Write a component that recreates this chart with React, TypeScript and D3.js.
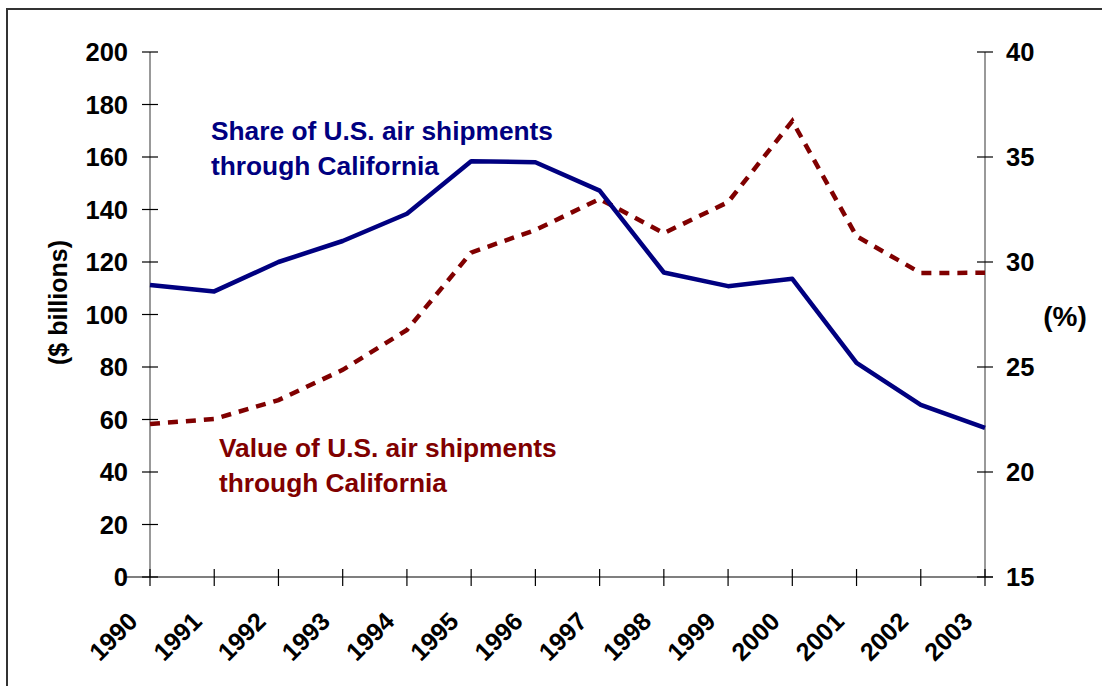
import React from "react";
import * as d3 from "d3";

// Years on the x axis
const years = [1990, 1991, 1992, 1993, 1994, 1995, 1996, 1997, 1998, 1999, 2000, 2001, 2002, 2003];

// Share of U.S. air shipments through California (%), right axis
const shareValues = [28.9, 28.6, 30.0, 31.0, 32.3, 34.8, 34.75, 33.4, 29.5, 28.85, 29.2, 25.2, 23.2, 22.1];

// Value of U.S. air shipments through California ($ billions), left axis
const valueValues = [58.3, 60.2, 67.4, 78.9, 94.1, 123.6, 132.2, 144, 131, 142.8, 173.7, 129.8, 115.8, 115.9];

// Tick labels
const leftTicks = [0, 20, 40, 60, 80, 100, 120, 140, 160, 180, 200];
const rightTicks = [15, 20, 25, 30, 35, 40];

const W = 1102,
  H = 686;
const left = 150,
  right = 985,
  top = 52,
  bottom = 577;

const FONT = "'Liberation Sans', Arial, sans-serif";
const NAVY = "#000080";
const MAROON = "#800000";

export default function App() {
  const x = d3
    .scaleLinear()
    .domain([years[0], years[years.length - 1]])
    .range([left, right]);
  const yLeft = d3.scaleLinear().domain([0, 200]).range([bottom, top]);
  const yRight = d3.scaleLinear().domain([15, 40]).range([bottom, top]);

  const shareLine = d3
    .line<number>()
    .x((_, i) => x(years[i]))
    .y((d) => yRight(d));
  const valueLine = d3
    .line<number>()
    .x((_, i) => x(years[i]))
    .y((d) => yLeft(d));

  return (
    <svg
      width={W}
      height={H}
      style={{ position: "absolute", left: 0, top: 0, background: "#fff" }}
      fontFamily={FONT}
      fontWeight="bold"
    >
      {/* cadre */}
      <rect x={7} y={9} width={W + 20} height={H + 20} fill="none" stroke="#333" strokeWidth={2} />

      {/* axe gauche */}
      <line x1={left} x2={left} y1={top} y2={bottom} stroke="#777" strokeWidth={1.5} />
      {leftTicks.map((t) => (
        <g key={"l" + t}>
          <line x1={left - 8} x2={left + 8} y1={yLeft(t)} y2={yLeft(t)} stroke="#000" strokeWidth={1.2} />
          <text x={left - 22} y={yLeft(t)} dy="0.36em" textAnchor="end" fontSize={25.5}>
            {t}
          </text>
        </g>
      ))}
      <text
        transform={`translate(67,${(top + bottom) / 2 - 12}) rotate(-90)`}
        textAnchor="middle"
        fontSize={25}
      >
        ($ billions)
      </text>

      {/* axe droit */}
      <line x1={right} x2={right} y1={top} y2={bottom} stroke="#777" strokeWidth={1.5} />
      {rightTicks.map((t) => (
        <g key={"r" + t}>
          <line x1={right - 8} x2={right + 8} y1={yRight(t)} y2={yRight(t)} stroke="#000" strokeWidth={1.2} />
          <text x={right + 21} y={yRight(t)} dy="0.36em" textAnchor="start" fontSize={25.5}>
            {t}
          </text>
        </g>
      ))}
      <text x={1065} y={316} dy="0.36em" textAnchor="middle" fontSize={28}>
        (%)
      </text>

      {/* axe des x */}
      <line x1={left - 25} x2={right + 8} y1={bottom} y2={bottom} stroke="#000" strokeWidth={1.2} />
      {years.map((yr) => (
        <g key={yr}>
          <line x1={x(yr)} x2={x(yr)} y1={bottom - 8} y2={bottom + 9} stroke="#000" strokeWidth={1.2} />
          <text
            transform={`translate(${x(yr) - 11},${bottom + 46}) rotate(-45)`}
            textAnchor="end"
            fontSize={25}
          >
            {yr}
          </text>
        </g>
      ))}

      {/* séries */}
      <path
        d={valueLine(valueValues) || ""}
        fill="none"
        stroke={MAROON}
        strokeWidth={4.5}
        strokeDasharray="10,8"
      />
      <path d={shareLine(shareValues) || ""} fill="none" stroke={NAVY} strokeWidth={4.5} strokeLinejoin="round" />

      {/* étiquettes */}
      <text fill={NAVY} fontSize={26.3}>
        <tspan x={211} y={140}>
          Share of U.S. air shipments
        </tspan>
        <tspan x={211} y={175}>
          through California
        </tspan>
      </text>
      <text fill={MAROON} fontSize={26.3}>
        <tspan x={219} y={457}>
          Value of U.S. air shipments
        </tspan>
        <tspan x={219} y={492}>
          through California
        </tspan>
      </text>
    </svg>
  );
}
